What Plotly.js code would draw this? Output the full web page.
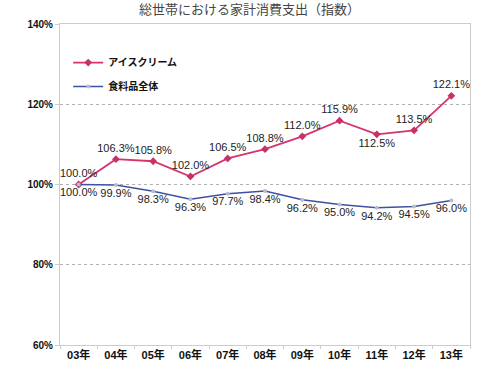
<!DOCTYPE html>
<html><head><meta charset="utf-8">
<script src="https://cdn.plot.ly/plotly-3.0.1.min.js"></script>
<style>body{margin:0;background:#fff}#c{width:480px;height:370px}</style>
</head><body><div id="c"></div>
<script>
const years = ['03年','04年','05年','06年','07年','08年','09年','10年','11年','12年','13年'];
const iceCream = [100.0,106.3,105.8,102.0,106.5,108.8,112.0,115.9,112.5,113.5,122.1];
const foodTotal = [100.0,99.9,98.3,96.3,97.7,98.4,96.2,95.0,94.2,94.5,96.0];
const iceLabelPos = ['top center','top center','top center','top center','top center','top center','top center','top center','bottom center','top center','top center'];
const FONT = 'Liberation Sans, Arial, Noto Sans CJK JP, sans-serif';

const traces = [
  {x: years, y: iceCream, name: 'アイスクリーム', legendgroup: 'a', type: 'scatter', mode: 'lines+markers+text',
   line: {color: '#d6336f', width: 1.8}, marker: {symbol: 'diamond', size: 6, color: '#c9306a'},
   texttemplate: '%{y:.1f}%', textposition: iceLabelPos,
   textfont: {family: FONT, size: 11, color: '#222'}, cliponaxis: false},
  {x: years, y: foodTotal, name: '食料品全体', legendgroup: 'b', type: 'scatter', mode: 'lines+markers+text',
   line: {color: '#3d51a3', width: 1.5}, marker: {symbol: 'circle', size: 4, color: '#b8bccc'},
   texttemplate: '%{y:.1f}%', textposition: 'bottom center',
   textfont: {family: FONT, size: 11, color: '#222'}, cliponaxis: false}
];

const layout = {
  width: 480, height: 370,
  margin: {l: 60, r: 10, t: 24, b: 25},
  paper_bgcolor: '#fff', plot_bgcolor: '#fff',
  font: {family: FONT, color: '#222'},
  title: {text: '総世帯における家計消費支出（指数）', x: 0.52, xanchor: 'center', y: 0.988, yanchor: 'top',
          font: {family: 'Noto Sans CJK JP, sans-serif', size: 13, color: '#444'}},
  showlegend: true,
  legend: {x: 0.02, y: 0.925, xanchor: 'left', yanchor: 'top', bgcolor: 'rgba(0,0,0,0)',
           font: {family: 'Noto Sans CJK JP, sans-serif', size: 10, color: '#111', weight: 'bold'},
           itemwidth: 30, tracegroupgap: 5},
  xaxis: {type: 'category', range: [-0.5, 10.5], showgrid: false, zeroline: false,
          showline: true, linecolor: '#ccc', mirror: true, ticks: 'outside', tickcolor: '#ccc', ticklen: 3,
          tickson: 'boundaries',
          tickfont: {family: FONT, size: 11, color: '#111', weight: 'bold'}},
  yaxis: {range: [60, 140], tickvals: [60,80,100,120,140], ticktext: ['60%','80%','100%','120%','140%'],
          showgrid: true, gridcolor: '#b0b0b0', griddash: 'dot', gridwidth: 1, zeroline: false,
          showline: true, linecolor: '#ccc', mirror: true, ticks: 'outside', tickcolor: '#ccc', ticklen: 4,
          tickfont: {family: FONT, size: 10, color: '#111', weight: 'bold'}}
};
Plotly.newPlot('c', traces, layout, {displayModeBar: false, staticPlot: true});
</script></body></html>
